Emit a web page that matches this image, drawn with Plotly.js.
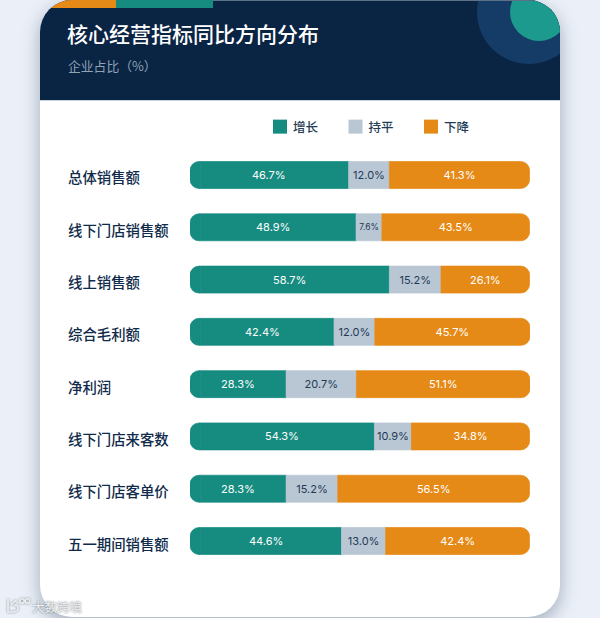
<!DOCTYPE html>
<html><head><meta charset="utf-8">
<script src="https://cdn.plot.ly/plotly-3.0.1.min.js"></script>
<style>
html,body{margin:0;padding:0;width:600px;height:618px;overflow:hidden;background:#ebf0f8;}
#card{position:absolute;left:40px;top:0;width:520px;height:617px;background:#fff;border-radius:32px;box-shadow:0 6px 18px rgba(20,40,70,.34);}
#clip{position:absolute;left:0;top:0;width:520px;height:617px;border-radius:32px;overflow:hidden;}
#head{position:absolute;left:0;top:0;width:520px;height:100px;background:#0a2444;border-bottom:1px solid #c9d3dd;box-sizing:content-box;}
.d{position:absolute;}
#chart{position:absolute;left:0;top:0;width:600px;height:618px;}
#logo{position:absolute;left:6px;top:597px;filter:drop-shadow(0 0 1px #7f888e);}
</style></head><body>
<div id="card"><div id="clip"><div id="head">
<div class="d" style="left:437px;top:-40px;width:104px;height:104px;border-radius:50%;background:#143c66"></div>
<div class="d" style="left:470px;top:-17px;width:58px;height:58px;border-radius:50%;background:#1c9a8e"></div>
<div class="d" style="left:0;top:0;width:520px;height:1px;background:#5d7286"></div>
<div class="d" style="left:0;top:0;width:76px;height:8px;background:#e68a17"></div>
<div class="d" style="left:76px;top:0;width:97px;height:8px;background:#168b80"></div>
</div></div></div>
<div id="chart"></div>
<svg id="logo" width="24" height="18" viewBox="0 0 24 18" fill="none" stroke="#eef0f2" stroke-width="1.6">
<path d="M2 2V15H7C10 15 12 13 12 11C12 9 10 8 8 8M5 8L10 3"/><circle cx="16" cy="4" r="2.2"/><circle cx="21.5" cy="4" r="2.2"/></svg>
<script>
const categories=['总体销售额','线下门店销售额','线上销售额','综合毛利额','净利润','线下门店来客数','线下门店客单价','五一期间销售额'];
const growth=[46.7,48.9,58.7,42.4,28.3,54.3,28.3,44.6];
const flat=[12.0,7.6,15.2,12.0,20.7,10.9,15.2,13.0];
const decline=[41.3,43.5,26.1,45.7,51.1,34.8,56.5,42.4];
const seriesNames=['增长','持平','下降'];
const seriesColors=['#168b80','#b9c7d4','#e68a17'];
const titleText='核心经营指标同比方向分布';
const subtitleText='企业占比（%）';
const watermark='大数跨境';

const W=600,H=618;
const px=v=>v/W, py=v=>1-v/H;
const CJK='"Noto Sans CJK SC","Noto Sans",sans-serif';
const NUM='Inter,"Noto Sans",sans-serif';
const fmt=a=>a.map(v=>v.toFixed(1)+'%');
// The first series is split at a small offset so that its left end is a rounded negative stack tip.
const CAP=3;
const edge=i=>({color:seriesColors[i],width:0.7});
const common={type:'bar',orientation:'h',y:categories,textposition:'inside',insidetextanchor:'middle',
  textangle:0,constraintext:'none',cliponaxis:false,hoverinfo:'skip',showlegend:false};
const data=[
 Object.assign({},common,{x:categories.map(()=>-CAP),marker:{color:seriesColors[0],cornerradius:9,line:edge(0)}}),
 Object.assign({},common,{x:growth.map(v=>v-CAP),marker:{color:seriesColors[0],line:edge(0)}}),
 Object.assign({},common,{x:flat,text:fmt(flat),
   marker:{color:seriesColors[1],line:edge(1)},textfont:{family:NUM,size:flat.map(v=>v<8?8.5:11),color:'#1f3a56'}}),
 Object.assign({},common,{x:decline,text:fmt(decline),
   marker:{color:seriesColors[2],cornerradius:9,line:edge(2)},textfont:{family:NUM,size:11,color:'#ffffff'}})
];
seriesNames.forEach((n,i)=>data.push({type:'scatter',mode:'markers',name:n,x:[null],y:[null],showlegend:true,hoverinfo:'skip',
  marker:{symbol:'square',size:14,color:seriesColors[i],line:{width:0}}}));
const annotations=categories.map(c=>({xref:'paper',yref:'y',x:px(66),y:c,text:c,xanchor:'left',yanchor:'middle',
  showarrow:false,yshift:-2,font:{family:CJK,size:14.4,weight:500,color:'#0f2a4a'}}));
growth.forEach((v,i)=>annotations.push({xref:'x',yref:'y',x:v/2-CAP,y:categories[i],text:v.toFixed(1)+'%',xanchor:'center',yanchor:'middle',
  showarrow:false,font:{family:NUM,size:11,color:'#ffffff'}}));
annotations.push({xref:'paper',yref:'paper',x:px(66),y:py(65),text:subtitleText,xanchor:'left',yanchor:'middle',
  showarrow:false,font:{family:CJK,size:12.8,color:'#8fa3b6'}});
annotations.push({xref:'paper',yref:'paper',x:px(30),y:py(606),text:watermark,xanchor:'left',yanchor:'middle',
  showarrow:false,font:{family:CJK,size:12.5,color:'#eef0f2',shadow:'0 0 2px #5f686e'}});
const layout={width:W,height:H,margin:{l:0,r:0,t:0,b:0},paper_bgcolor:'rgba(0,0,0,0)',plot_bgcolor:'rgba(0,0,0,0)',
  barmode:'relative',bargap:0.484,showlegend:true,
  title:{text:titleText,x:px(67),xref:'paper',xanchor:'left',y:py(35),yref:'paper',yanchor:'middle',
    pad:{l:0,r:0,t:0,b:0},font:{family:CJK,size:21,weight:500,color:'#ffffff'}},
  xaxis:{domain:[px(190),px(530)],range:[-CAP,100.1-CAP],visible:false,fixedrange:true},
  yaxis:{domain:[py(567.15),py(148.85)],type:'category',categoryorder:'array',categoryarray:categories,
    autorange:'reversed',visible:false,fixedrange:true},
  legend:{orientation:'h',x:px(260),xanchor:'left',y:py(127),yanchor:'middle',entrywidth:30.5,entrywidthmode:'pixels',
    itemwidth:30,itemclick:false,itemdoubleclick:false,bgcolor:'rgba(0,0,0,0)',traceorder:'normal',itemsizing:'trace',
    font:{family:CJK,size:12.5,weight:500,color:'#243b55'}},
  annotations:annotations};
Plotly.newPlot('chart',data,layout,{displayModeBar:false}).then(()=>{
  // tighten the gap between legend swatch and label
  document.querySelectorAll('#chart .legendtext').forEach(t=>{t.setAttribute('x',parseFloat(t.getAttribute('x'))-7);});
});
</script>
</body></html>
